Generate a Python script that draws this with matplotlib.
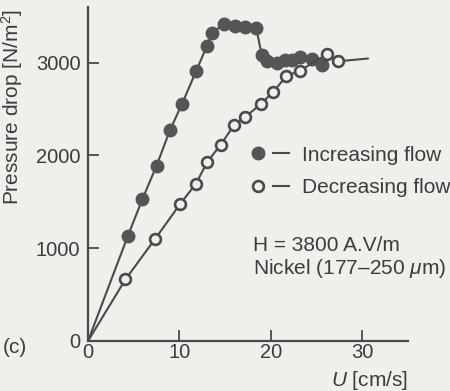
import numpy as np
import matplotlib
matplotlib.use('Agg')
import matplotlib.pyplot as plt
from matplotlib.lines import Line2D
from matplotlib.legend_handler import HandlerTuple

#-----------------------
# Data
#-----------------------

# increasing flow, first entry is the origin (line only, no marker)
u_inc = [0, 4.35, 5.95, 7.5, 8.95, 10.3, 11.85, 13.0, 13.6, 14.85, 16.1, 17.2, 18.4,
         19.0, 19.6, 20.7, 21.6, 22.3, 23.2, 24.5, 25.6]
dp_inc = [0, 1130, 1530, 1890, 2270, 2560, 2915, 3180, 3325, 3415, 3400, 3390, 3375,
          3085, 3020, 2995, 3025, 3025, 3060, 3040, 2975]

# decreasing flow, first entry is the end of the line at high U, last is the origin
u_dec = [30.6, 27.3, 26.1, 23.2, 21.7, 20.2, 18.9, 17.2, 16.0, 14.5, 13.05, 11.8, 10.1, 7.3, 4.1, 0]
dp_dec = [3045, 3015, 3090, 2915, 2855, 2680, 2555, 2415, 2330, 2115, 1930, 1695, 1480, 1095, 665, 0]

xticks = [0, 10, 20, 30]
yticks = [0, 1000, 2000, 3000]

#-----------------------
# Style
#-----------------------

plt.rcParams['font.family'] = ['Liberation Sans', 'DejaVu Sans']
plt.rcParams['mathtext.fontset'] = 'custom'
plt.rcParams['mathtext.rm'] = 'Liberation Sans'
plt.rcParams['mathtext.it'] = 'Liberation Sans:italic'

bg = '#efefec'
ink = '#4a4a4a'
txt = '#3c3c3c'
fs = 15
fst = 14.5 # tick labels
lw = 1.5

fig = plt.figure(figsize=(4.5, 3.91), dpi=100, facecolor=bg)
ax = fig.add_axes([0.1956, 0.1279, 0.711, 0.854], facecolor=bg)

n_inc = len(u_inc)
n_dec = len(u_dec)

ax.plot(u_inc, dp_inc, '-', color=ink, lw=lw, marker='o', ms=9,
        mfc='#555555', mec='#555555', markevery=list(range(1, n_inc)), zorder=3)
ax.plot(u_dec, dp_dec, '-', color=ink, lw=lw, marker='o', ms=7.8, mew=1.9,
        mfc=bg, mec=ink, markevery=list(range(1, n_dec - 1)), zorder=4)

ax.set_xlim(0, 35)
ax.set_ylim(0, 3600)
ax.set_xticks(xticks)
ax.set_yticks(yticks)
ax.tick_params(direction='in', length=8, width=1.3, color=ink, labelcolor=txt, labelsize=fst)
ax.tick_params(axis='y', pad=5.5)
ax.tick_params(axis='x', pad=1.5)
for s in ['top', 'right']:
    ax.spines[s].set_visible(False)
for s in ['left', 'bottom']:
    ax.spines[s].set_color(ink)
    ax.spines[s].set_linewidth(1.6)

ax.set_ylabel('Pressure drop [N/m$^2$]', fontsize=fs, color=txt)
ax.yaxis.set_label_coords(-0.197, 0.70)
ax.set_xlabel('$U$ [cm/s]', fontsize=fs, color=txt, loc='right', labelpad=5)

### Legend: marker followed by a short dash
h_inc = (Line2D([], [], ls='none', marker='o', ms=9, mfc='#555555', mec='#555555'),
         Line2D([], [], color=ink, lw=lw))
h_dec = (Line2D([], [], ls='none', marker='o', ms=7.8, mew=1.9, mfc=bg, mec=ink),
         Line2D([], [], color=ink, lw=lw))
leg = ax.legend([h_inc, h_dec], ['Increasing flow', 'Decreasing flow'],
                handler_map={tuple: HandlerTuple(ndivide=None, pad=0.3)},
                loc='upper left', bbox_to_anchor=(0.505, 0.585), frameon=False,
                fontsize=fs, handlelength=1.9, handletextpad=0.6, labelspacing=0.65,
                borderpad=0, borderaxespad=0)
for t in leg.get_texts():
    t.set_color(txt)

ax.text(0.515, 0.315, 'H = 3800 A.V/m\nNickel (177\u2013250 $\\mu$m)', transform=ax.transAxes,
        fontsize=fs, color=txt, va='top', ha='left', linespacing=1.1)

fig.text(0.006, 0.112, '(c)', fontsize=fs, color=txt, ha='left', va='center')

plt.savefig('out.png', dpi=100, facecolor=bg)
